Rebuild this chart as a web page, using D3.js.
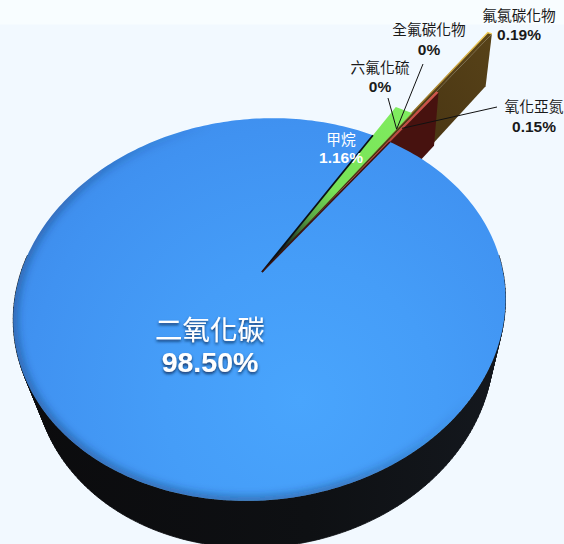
<!DOCTYPE html>
<html lang="zh-Hant">
<head>
<meta charset="utf-8">
<script src="https://cdn.jsdelivr.net/npm/d3@7"></script>
<style>
html,body{margin:0;padding:0;background:#f2f9ff;}
svg{display:block;}
text{font-family:"Liberation Sans","Noto Sans CJK TC",sans-serif;text-anchor:middle;}
</style>
</head>
<body>
<svg id="chart" width="564" height="544"></svg>
<script>
// Greenhouse gas shares, in drawing order clockwise from the exploded group
const gases = ["甲烷", "六氟化硫", "全氟碳化物", "氟氯碳化物", "氧化亞氮", "二氧化碳"];
const shares = [1.16, 0, 0, 0.19, 0.15, 98.50];
const shareLabels = ["1.16%", "0%", "0%", "0.19%", "0.15%", "98.50%"];

// Radial emphasis of each slice relative to the disc
const reach = [1.25, 1.17, 1.17, 2.10, 1.47, 1];

const width = 564, height = 544;
const svg = d3.select("#chart");
const defs = svg.append("defs");

// Perspective camera looking down onto the disc; depth is 0 on top, 1 on the underside
const cam = {x: 262, y: 272, a: 241, b: 184, k: 0.196, m: 0.07, c: 57, shear: 0.07, drift: 8};
function project(angle, r, depth = 0) {
  const u = r * Math.sin(angle), v = -r * Math.cos(angle);
  const w = 1 - cam.k * v + cam.m * depth;
  const dy = (cam.b * v + cam.c * depth) / w;
  return [cam.x + cam.a * u / w - cam.shear * dy + cam.drift * depth, cam.y + dy];
}

const firstAngle = 29.5 * Math.PI / 180;
const pie = d3.pie().sort(null).value(d => d)
  .startAngle(firstAngle)
  .endAngle(firstAngle + 2 * Math.PI);
const arcs = pie(shares);
const line = d3.line().curve(d3.curveLinear);

function rim(a0, a1, r, depth = 0) {
  const n = Math.max(2, Math.ceil((a1 - a0) / 0.02));
  return d3.range(n + 1).map(i => project(a0 + (a1 - a0) * i / n, r, depth));
}
const wedge = (d, r) => line([project(0, 0), ...rim(d.startAngle, d.endAngle, r)]) + "Z";

// Gradients
const topFill = defs.append("radialGradient").attr("id", "topFill").attr("gradientUnits", "userSpaceOnUse")
  .attr("cx", 300).attr("cy", 400).attr("r", 340);
[[0, "#49a5fd"], [0.4, "#459df8"], [0.8, "#4092f1"], [1, "#3d8bea"]]
  .forEach(([o, c]) => topFill.append("stop").attr("offset", o).attr("stop-color", c));

const rimShade = defs.append("linearGradient").attr("id", "rimShade").attr("gradientUnits", "userSpaceOnUse")
  .attr("x1", 320).attr("y1", 240).attr("x2", 120).attr("y2", 430);
rimShade.append("stop").attr("offset", 0).attr("stop-color", "#12305c").attr("stop-opacity", 0);
rimShade.append("stop").attr("offset", 0.55).attr("stop-color", "#12305c").attr("stop-opacity", 0.45);
rimShade.append("stop").attr("offset", 1).attr("stop-color", "#12305c").attr("stop-opacity", 0.5);

const sideFill = defs.append("linearGradient").attr("id", "sideFill").attr("x1", 0).attr("x2", 1).attr("y1", 0).attr("y2", 0);
sideFill.append("stop").attr("offset", 0).attr("stop-color", "#0b0b0d");
sideFill.append("stop").attr("offset", 0.6).attr("stop-color", "#0e1013");
sideFill.append("stop").attr("offset", 1).attr("stop-color", "#14181e");

function rayGradient(id, arc, r, stops) {
  const tip = project((arc.startAngle + arc.endAngle) / 2, r);
  const g = defs.append("linearGradient").attr("id", id).attr("gradientUnits", "userSpaceOnUse")
    .attr("x1", cam.x).attr("y1", cam.y).attr("x2", tip[0]).attr("y2", tip[1]);
  stops.forEach(([o, c]) => g.append("stop").attr("offset", o).attr("stop-color", c));
}
rayGradient("greenFill", arcs[0], reach[0], [[0, "#0d1722"], [0.16, "#16261f"], [0.34, "#5aa845"], [0.5, "#77e257"], [1, "#80ec5f"]]);
rayGradient("yellowFill", arcs[3], reach[3], [[0, "#1f1408"], [0.5, "#46330f"], [0.85, "#57421a"], [1, "#5b4518"]]);
rayGradient("goldEdge", arcs[3], reach[3], [[0, "#1f1408"], [0.55, "#6b5220"], [0.85, "#c9a23e"], [1, "#f3cf58"]]);
rayGradient("redFill", arcs[4], reach[4], [[0, "#1c0a0a"], [0.3, "#5a1a18"], [0.6, "#b93f3b"], [1, "#d2544c"]]);

const brownFill = defs.append("linearGradient").attr("id", "brownFill").attr("x1", 1).attr("y1", 0).attr("x2", 0).attr("y2", 1);
brownFill.append("stop").attr("offset", 0).attr("stop-color", "#574218");
brownFill.append("stop").attr("offset", 1).attr("stop-color", "#3f2c0f");

const blur = defs.append("filter").attr("id", "soft").attr("x", "-10%").attr("y", "-10%").attr("width", "120%").attr("height", "120%");
blur.append("feGaussianBlur").attr("stdDeviation", 4);
const shadow = defs.append("filter").attr("id", "textShadow").attr("x", "-20%").attr("y", "-30%").attr("width", "140%").attr("height", "170%");
shadow.append("feDropShadow").attr("dx", 0).attr("dy", 2).attr("stdDeviation", 1.6).attr("flood-color", "#0b2a55").attr("flood-opacity", 0.9);

const disc = arcs[5];
defs.append("clipPath").attr("id", "discClip").append("path").attr("d", wedge(disc, 1));

// Paper: a pale band along the top edge over the tinted page
svg.append("rect").attr("width", width).attr("height", height).attr("fill", "#f2f9ff");
svg.append("rect").attr("width", width).attr("height", 24.5).attr("fill", "#f8fdff");

// Cylinder wall below the main slice: only the part facing the viewer is ever seen
const sideFrom = Math.PI * 0.47, sideTo = Math.PI * 1.53;
const upper = rim(sideFrom, sideTo, 1);
const lower = rim(sideFrom, sideTo, 1, 1);
const sidePath = d3.pairs(d3.range(upper.length))
  .map(([i, j]) => line([upper[i], lower[i], lower[j], upper[j]]) + "Z").join("");
svg.append("path").attr("d", sidePath).attr("fill", "url(#sideFill)")
  .attr("stroke", "url(#sideFill)").attr("stroke-width", 0.8);

// Outer walls of the raised slices, painted back to front
function wall(d, r, fill) {
  const a = d.endAngle;
  svg.append("path")
    .attr("d", line([project(a, r), project(a, r, 1), project(a, 0.75, 1), project(a, 0.75)]) + "Z")
    .attr("fill", fill);
}
wall(arcs[3], reach[3], "url(#brownFill)");
svg.append("path").attr("d", wedge(arcs[3], reach[3])).attr("fill", "url(#yellowFill)");
svg.append("path")
  .attr("d", line([project(arcs[3].startAngle, 0), project(arcs[3].startAngle, reach[3]), project(arcs[3].endAngle, reach[3])]))
  .attr("fill", "none").attr("stroke", "url(#goldEdge)").attr("stroke-width", 1.4);

wall(arcs[4], reach[4], "#47120f");
svg.append("path").attr("d", wedge(arcs[4], reach[4])).attr("fill", "url(#redFill)");
svg.append("path").attr("d", wedge(arcs[0], reach[0])).attr("fill", "url(#greenFill)");

// Main slice with a soft darkened rim on its lower left
svg.append("path").attr("d", wedge(disc, 1)).attr("fill", "url(#topFill)");
svg.append("path").attr("d", line(rim(disc.startAngle, disc.endAngle, 1)))
  .attr("fill", "none").attr("stroke", "url(#rimShade)").attr("stroke-width", 8)
  .attr("filter", "url(#soft)").attr("clip-path", "url(#discClip)");

// Dark seams where the raised slices meet the main slice
const seam = (a, color, w) => svg.append("path")
  .attr("d", line([project(a, 0), project(a, 1)]))
  .attr("stroke", color).attr("stroke-width", w).attr("fill", "none");
seam(arcs[0].startAngle, "#0a0f16", 1.8);
seam(arcs[4].endAngle, "#3a1210", 1.5);

// Labels, with leader lines running to the slices too thin to hold text
const labels = [
  {i: 0, x: 341, y1: 145, y2: 163, nameSize: 14.7, valueSize: 15.5, white: true},
  {i: 1, x: 380, y1: 73, y2: 92, nameSize: 14.7, valueSize: 15.5, from: [388, 98], to: 1.1},
  {i: 2, x: 429, y1: 35, y2: 55, nameSize: 14.7, valueSize: 15.5, from: [423, 64], to: 1.1},
  {i: 3, x: 519, y1: 21, y2: 40, nameSize: 14.7, valueSize: 15.5},
  {i: 4, x: 534, y1: 112, y2: 132, nameSize: 14.7, valueSize: 15.5, from: [497, 107], to: 1.12},
  {i: 5, x: 210, y1: 340, y2: 372, nameSize: 27.5, valueSize: 28.5, white: true, big: true}
];

labels.filter(l => l.from).forEach(l => {
  const a = arcs[l.i];
  const end = project((a.startAngle + a.endAngle) / 2, l.to);
  svg.append("line").attr("x1", l.from[0]).attr("y1", l.from[1]).attr("x2", end[0]).attr("y2", end[1])
    .attr("stroke", "#111").attr("stroke-width", 1);
});

labels.forEach(l => {
  const g = svg.append("g").attr("fill", l.white ? "#ffffff" : "#1a1a1a");
  if (l.big) g.attr("filter", "url(#textShadow)");
  g.append("text").attr("x", l.x).attr("y", l.y1)
    .attr("font-size", l.nameSize).text(gases[l.i]);
  g.append("text").attr("x", l.x).attr("y", l.y2)
    .attr("font-size", l.valueSize).attr("font-weight", "bold").text(shareLabels[l.i]);
});
</script>
</body>
</html>
